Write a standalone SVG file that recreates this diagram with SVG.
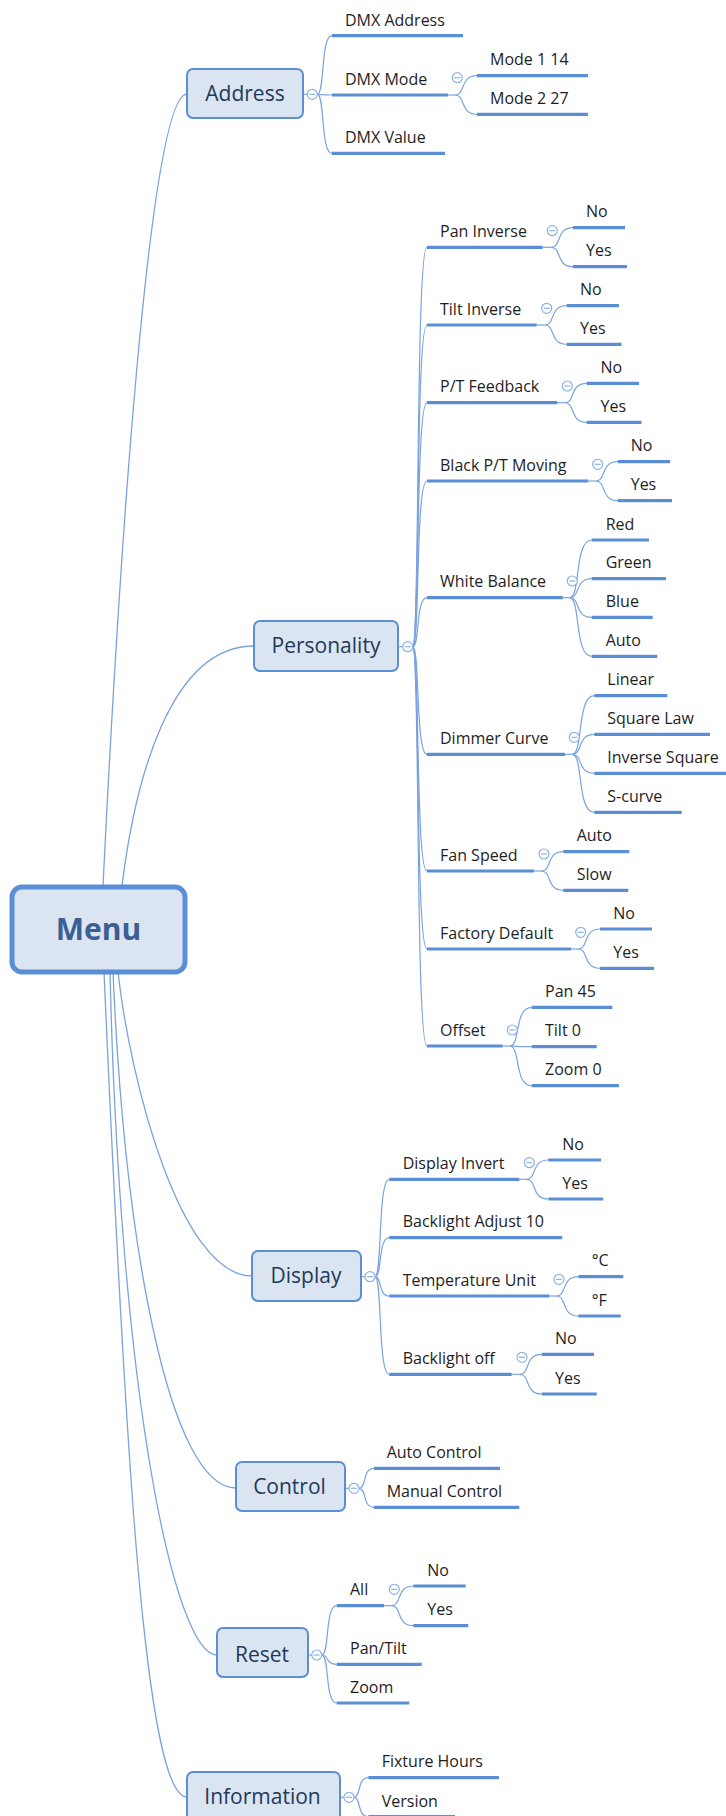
<svg xmlns="http://www.w3.org/2000/svg" width="726" height="1816" viewBox="0 0 726 1816">
<defs>
<style>
.bg{fill:#ffffff}
.box{fill:#dbe5f2;stroke:#5a8fd5;stroke-width:2}
.root{fill:#dbe5f2;stroke:#5a8fd5;stroke-width:5}
.bt{font-family:"Open Sans","Noto Sans",sans-serif;font-size:21px;fill:#22395a;text-anchor:middle}
.rt{font-family:"Open Sans","Noto Sans",sans-serif;font-size:30px;font-weight:bold;fill:#3b5f94;text-anchor:middle}
.t{font-family:"Open Sans","Noto Sans",sans-serif;font-size:16px;fill:#1e1e1e}
.ul{stroke:#5a8fd5;stroke-width:3.2;fill:none;stroke-linecap:butt}
.c{stroke:#7aa3de;stroke-width:1.2;fill:none}
.rc{stroke:#7aa3de;stroke-width:1.3;fill:none}
.col{fill:#ffffff;stroke:#8fb2e2;stroke-width:1.2}
.mn{stroke:#8fb2e2;stroke-width:1.2}
</style>
</defs>
<rect class="bg" x="0" y="0" width="726" height="1816"/>

<g id="connectors">
<!-- root connectors -->
<path class="rc" d="M103,886 C122,500 152,94 187,94"/>
<path class="rc" d="M122,886 C135,780 170,646 254,646"/>
<path class="rc" d="M118,972 C130,1080 180,1276 252,1276"/>
<path class="rc" d="M113,972 C125,1250 170,1488 236,1488"/>
<path class="rc" d="M110,972 C120,1400 175,1655 217,1655"/>
<path class="rc" d="M104,972 C125,1450 145,1797 187,1797"/>

<!-- Address -->
<path class="c" d="M303,94.3 H307.3"/>
<path class="c" d="M317.3,94.3 C325,94.3 320.4,35.7 332,35.7"/>
<path class="c" d="M317.3,94.3 C325,94.3 320.4,95 332,95"/>
<path class="c" d="M317.3,94.3 C325,94.3 320.4,153.3 332,153.3"/>
<path class="c" d="M448,95 H455"/>
<path class="c" d="M455,95 C466,95 459.4,75.7 477,75.7"/>
<path class="c" d="M455,95 C466,95 459.4,114.3 477,114.3"/>

<!-- Personality -->
<path class="c" d="M398,646.7 H402.7"/>
<path class="c" d="M412.7,646.7 C420,646.7 415.4,247.3 427,247.3"/>
<path class="c" d="M412.7,646.7 C420,646.7 415.4,325 427,325"/>
<path class="c" d="M412.7,646.7 C420,646.7 415.4,402.7 427,402.7"/>
<path class="c" d="M412.7,646.7 C420,646.7 415.4,481 427,481"/>
<path class="c" d="M412.7,646.7 C420,646.7 415.4,597.7 427,597.7"/>
<path class="c" d="M412.7,646.7 C420,646.7 415.4,754.3 427,754.3"/>
<path class="c" d="M412.7,646.7 C420,646.7 415.4,871 427,871"/>
<path class="c" d="M412.7,646.7 C420,646.7 415.4,949 427,949"/>
<path class="c" d="M412.7,646.7 C420,646.7 415.4,1046 427,1046"/>
<!-- Pan Inverse -->
<path class="c" d="M542.7,247.3 H551"/>
<path class="c" d="M551,247.3 C562,247.3 555.4,227.7 573,227.7"/>
<path class="c" d="M551,247.3 C562,247.3 555.4,266.7 573,266.7"/>
<!-- Tilt Inverse -->
<path class="c" d="M536.7,325 H544.7"/>
<path class="c" d="M544.7,325 C555.7,325 549.1,305.7 566.7,305.7"/>
<path class="c" d="M544.7,325 C555.7,325 549.1,344.3 566.7,344.3"/>
<!-- P/T Feedback -->
<path class="c" d="M557.3,402.7 H564.7"/>
<path class="c" d="M564.7,402.7 C575.7,402.7 569.1,383.3 586.7,383.3"/>
<path class="c" d="M564.7,402.7 C575.7,402.7 569.1,422.3 586.7,422.3"/>
<!-- Black P/T Moving -->
<path class="c" d="M588.3,481 H595.7"/>
<path class="c" d="M595.7,481 C606.7,481 600.1,461.7 617.7,461.7"/>
<path class="c" d="M595.7,481 C606.7,481 600.1,500.7 617.7,500.7"/>
<!-- White Balance -->
<path class="c" d="M562.7,597.7 H569.7"/>
<path class="c" d="M569.7,597.7 C580.7,597.7 574.1,540 591.7,540"/>
<path class="c" d="M569.7,597.7 C580.7,597.7 574.1,578.7 591.7,578.7"/>
<path class="c" d="M569.7,597.7 C580.7,597.7 574.1,617.3 591.7,617.3"/>
<path class="c" d="M569.7,597.7 C580.7,597.7 574.1,656.3 591.7,656.3"/>
<!-- Dimmer Curve -->
<path class="c" d="M565,754.3 H572.3"/>
<path class="c" d="M572.3,754.3 C583.3,754.3 576.7,695.7 594.3,695.7"/>
<path class="c" d="M572.3,754.3 C583.3,754.3 576.7,734.3 594.3,734.3"/>
<path class="c" d="M572.3,754.3 C583.3,754.3 576.7,773.3 594.3,773.3"/>
<path class="c" d="M572.3,754.3 C583.3,754.3 576.7,812.3 594.3,812.3"/>
<!-- Fan Speed -->
<path class="c" d="M534,871 H541.3"/>
<path class="c" d="M541.3,871 C552.3,871 545.7,851.7 563.3,851.7"/>
<path class="c" d="M541.3,871 C552.3,871 545.7,890.3 563.3,890.3"/>
<!-- Factory Default -->
<path class="c" d="M571,949 H578"/>
<path class="c" d="M578,949 C589,949 582.4,929 600,929"/>
<path class="c" d="M578,949 C589,949 582.4,968.3 600,968.3"/>
<!-- Offset -->
<path class="c" d="M502.7,1046 H509.7"/>
<path class="c" d="M509.7,1046 C520.7,1046 514.1,1007.3 531.7,1007.3"/>
<path class="c" d="M509.7,1046 C520.7,1046 514.1,1046.7 531.7,1046.7"/>
<path class="c" d="M509.7,1046 C520.7,1046 514.1,1085.7 531.7,1085.7"/>

<!-- Display -->
<path class="c" d="M361,1276.7 H365"/>
<path class="c" d="M375,1276.7 C382.3,1276.7 377.7,1179.3 389.3,1179.3"/>
<path class="c" d="M375,1276.7 C382.3,1276.7 377.7,1237.7 389.3,1237.7"/>
<path class="c" d="M375,1276.7 C382.3,1276.7 377.7,1296 389.3,1296"/>
<path class="c" d="M375,1276.7 C382.3,1276.7 377.7,1374.3 389.3,1374.3"/>
<path class="c" d="M519.3,1179.3 H526.3"/>
<path class="c" d="M526.3,1179.3 C537.3,1179.3 530.7,1160 548.3,1160"/>
<path class="c" d="M526.3,1179.3 C537.3,1179.3 530.7,1199 548.3,1199"/>
<path class="c" d="M549.3,1296 H556.3"/>
<path class="c" d="M556.3,1296 C567.3,1296 560.7,1276.7 578.3,1276.7"/>
<path class="c" d="M556.3,1296 C567.3,1296 560.7,1316 578.3,1316"/>
<path class="c" d="M511.7,1374.3 H519.7"/>
<path class="c" d="M519.7,1374.3 C530.7,1374.3 524.1,1354.3 541.7,1354.3"/>
<path class="c" d="M519.7,1374.3 C530.7,1374.3 524.1,1394 541.7,1394"/>

<!-- Control -->
<path class="c" d="M345,1488.3 H349"/>
<path class="c" d="M359,1488.3 C367,1488.3 362,1468.3 374,1468.3"/>
<path class="c" d="M359,1488.3 C367,1488.3 362,1507.3 374,1507.3"/>

<!-- Reset -->
<path class="c" d="M308,1655 H311.7"/>
<path class="c" d="M321.7,1655 C329.7,1655 324.7,1605.7 336.7,1605.7"/>
<path class="c" d="M321.7,1655 C329.7,1655 324.7,1664.3 336.7,1664.3"/>
<path class="c" d="M321.7,1655 C329.7,1655 324.7,1703 336.7,1703"/>
<path class="c" d="M384,1605.7 H391.3"/>
<path class="c" d="M391.3,1605.7 C402.3,1605.7 395.7,1586 413.3,1586"/>
<path class="c" d="M391.3,1605.7 C402.3,1605.7 395.7,1625.7 413.3,1625.7"/>

<!-- Information -->
<path class="c" d="M340,1797.3 H344"/>
<path class="c" d="M354,1797.3 C361.3,1797.3 356.7,1777.7 368.3,1777.7"/>
<path class="c" d="M354,1797.3 C361.3,1797.3 356.7,1816.5 368.3,1816.5"/>
</g>

<g id="menu">
<rect class="root" x="12" y="887" width="173" height="85" rx="10"/>
<text class="rt" x="98.5" y="940">Menu</text>
</g>

<g id="address">
<rect class="box" x="187" y="69" width="116" height="49" rx="6"/>
<text class="bt" x="245" y="101">Address</text>
<circle class="col" cx="312.3" cy="94.3" r="5"/><line class="mn" x1="309.3" y1="94.3" x2="315.3" y2="94.3"/>
</g>
<g id="dmx-address"><line class="ul" x1="332" y1="35.7" x2="463" y2="35.7"/><text class="t" x="345" y="25.5">DMX Address</text></g>
<g id="dmx-mode"><line class="ul" x1="332" y1="95" x2="448" y2="95"/><text class="t" x="345" y="84.5">DMX Mode</text>
<circle class="col" cx="457.3" cy="77.7" r="5"/><line class="mn" x1="454.3" y1="77.7" x2="460.3" y2="77.7"/></g>
<g id="mode1"><line class="ul" x1="477" y1="75.7" x2="588" y2="75.7"/><text class="t" x="490" y="65">Mode 1 14</text></g>
<g id="mode2"><line class="ul" x1="477" y1="114.3" x2="588" y2="114.3"/><text class="t" x="490" y="103.7">Mode 2 27</text></g>
<g id="dmx-value"><line class="ul" x1="332" y1="153.3" x2="445" y2="153.3"/><text class="t" x="345" y="142.7">DMX Value</text></g>

<g id="personality">
<rect class="box" x="254" y="621" width="144" height="50" rx="6"/>
<text class="bt" x="326" y="653">Personality</text>
<circle class="col" cx="407.7" cy="646.7" r="5"/><line class="mn" x1="404.7" y1="646.7" x2="410.7" y2="646.7"/>
</g>
<g id="pan-inverse"><line class="ul" x1="427" y1="247.3" x2="542.7" y2="247.3"/><text class="t" x="440" y="236.7">Pan Inverse</text>
<circle class="col" cx="552.3" cy="230.7" r="5"/><line class="mn" x1="549.3" y1="230.7" x2="555.3" y2="230.7"/></g>
<g id="pan-no"><line class="ul" x1="573" y1="227.7" x2="625" y2="227.7"/><text class="t" x="586" y="217.2">No</text></g>
<g id="pan-yes"><line class="ul" x1="573" y1="266.7" x2="627" y2="266.7"/><text class="t" x="586" y="256.2">Yes</text></g>

<g id="tilt-inverse"><line class="ul" x1="427" y1="325" x2="536.7" y2="325"/><text class="t" x="440" y="314.5">Tilt Inverse</text>
<circle class="col" cx="546.7" cy="308.3" r="5"/><line class="mn" x1="543.7" y1="308.3" x2="549.7" y2="308.3"/></g>
<g id="tilt-no"><line class="ul" x1="566.7" y1="305.7" x2="619" y2="305.7"/><text class="t" x="580" y="295.2">No</text></g>
<g id="tilt-yes"><line class="ul" x1="566.7" y1="344.3" x2="621.5" y2="344.3"/><text class="t" x="580" y="333.8">Yes</text></g>

<g id="pt-feedback"><line class="ul" x1="427" y1="402.7" x2="557.3" y2="402.7"/><text class="t" x="440" y="392.2">P/T Feedback</text>
<circle class="col" cx="567.3" cy="386" r="5"/><line class="mn" x1="564.3" y1="386" x2="570.3" y2="386"/></g>
<g id="ptf-no"><line class="ul" x1="586.7" y1="383.3" x2="639" y2="383.3"/><text class="t" x="600.5" y="372.8">No</text></g>
<g id="ptf-yes"><line class="ul" x1="586.7" y1="422.3" x2="641.5" y2="422.3"/><text class="t" x="600.5" y="411.8">Yes</text></g>

<g id="black-pt"><line class="ul" x1="427" y1="481" x2="588.3" y2="481"/><text class="t" x="440" y="470.5">Black P/T Moving</text>
<circle class="col" cx="597.7" cy="464.3" r="5"/><line class="mn" x1="594.7" y1="464.3" x2="600.7" y2="464.3"/></g>
<g id="bpt-no"><line class="ul" x1="617.7" y1="461.7" x2="670" y2="461.7"/><text class="t" x="630.7" y="451.2">No</text></g>
<g id="bpt-yes"><line class="ul" x1="617.7" y1="500.7" x2="672" y2="500.7"/><text class="t" x="630.7" y="490.2">Yes</text></g>

<g id="white-balance"><line class="ul" x1="427" y1="597.7" x2="562.7" y2="597.7"/><text class="t" x="440" y="587.2">White Balance</text>
<circle class="col" cx="572.3" cy="581" r="5"/><line class="mn" x1="569.3" y1="581" x2="575.3" y2="581"/></g>
<g id="wb-red"><line class="ul" x1="591.7" y1="540" x2="649" y2="540"/><text class="t" x="605.7" y="529.5">Red</text></g>
<g id="wb-green"><line class="ul" x1="591.7" y1="578.7" x2="666" y2="578.7"/><text class="t" x="605.7" y="568.2">Green</text></g>
<g id="wb-blue"><line class="ul" x1="591.7" y1="617.3" x2="652.7" y2="617.3"/><text class="t" x="605.7" y="606.8">Blue</text></g>
<g id="wb-auto"><line class="ul" x1="591.7" y1="656.3" x2="657.3" y2="656.3"/><text class="t" x="605.7" y="645.8">Auto</text></g>

<g id="dimmer-curve"><line class="ul" x1="427" y1="754.3" x2="565" y2="754.3"/><text class="t" x="440" y="743.8">Dimmer Curve</text>
<circle class="col" cx="574.3" cy="737.3" r="5"/><line class="mn" x1="571.3" y1="737.3" x2="577.3" y2="737.3"/></g>
<g id="dc-linear"><line class="ul" x1="594.3" y1="695.7" x2="667.3" y2="695.7"/><text class="t" x="607.3" y="685.2">Linear</text></g>
<g id="dc-square"><line class="ul" x1="594.3" y1="734.3" x2="710" y2="734.3"/><text class="t" x="607.3" y="723.8">Square Law</text></g>
<g id="dc-inverse"><line class="ul" x1="594.3" y1="773.3" x2="726" y2="773.3"/><text class="t" x="607.3" y="762.8">Inverse Square</text></g>
<g id="dc-scurve"><line class="ul" x1="594.3" y1="812.3" x2="681.7" y2="812.3"/><text class="t" x="607.3" y="801.8">S-curve</text></g>

<g id="fan-speed"><line class="ul" x1="427" y1="871" x2="534" y2="871"/><text class="t" x="440" y="860.5">Fan Speed</text>
<circle class="col" cx="544" cy="854" r="5"/><line class="mn" x1="541" y1="854" x2="547" y2="854"/></g>
<g id="fan-auto"><line class="ul" x1="563.3" y1="851.7" x2="629.3" y2="851.7"/><text class="t" x="576.7" y="841.2">Auto</text></g>
<g id="fan-slow"><line class="ul" x1="563.3" y1="890.3" x2="628.3" y2="890.3"/><text class="t" x="576.7" y="879.8">Slow</text></g>

<g id="factory-default"><line class="ul" x1="427" y1="949" x2="571" y2="949"/><text class="t" x="440" y="938.5">Factory Default</text>
<circle class="col" cx="580.7" cy="932.3" r="5"/><line class="mn" x1="577.7" y1="932.3" x2="583.7" y2="932.3"/></g>
<g id="fd-no"><line class="ul" x1="600" y1="929" x2="652" y2="929"/><text class="t" x="613.3" y="918.5">No</text></g>
<g id="fd-yes"><line class="ul" x1="600" y1="968.3" x2="654" y2="968.3"/><text class="t" x="613.3" y="957.8">Yes</text></g>

<g id="offset"><line class="ul" x1="427" y1="1046" x2="502.7" y2="1046"/><text class="t" x="440" y="1035.5">Offset</text>
<circle class="col" cx="512.3" cy="1030" r="5"/><line class="mn" x1="509.3" y1="1030" x2="515.3" y2="1030"/></g>
<g id="off-pan"><line class="ul" x1="531.7" y1="1007.3" x2="612.3" y2="1007.3"/><text class="t" x="545" y="996.8">Pan 45</text></g>
<g id="off-tilt"><line class="ul" x1="531.7" y1="1046.7" x2="596.7" y2="1046.7"/><text class="t" x="545" y="1036.2">Tilt 0</text></g>
<g id="off-zoom"><line class="ul" x1="531.7" y1="1085.7" x2="619" y2="1085.7"/><text class="t" x="545" y="1075.2">Zoom 0</text></g>

<g id="display">
<rect class="box" x="252" y="1251" width="109" height="50" rx="6"/>
<text class="bt" x="306" y="1283">Display</text>
<circle class="col" cx="370" cy="1276.7" r="5"/><line class="mn" x1="367" y1="1276.7" x2="373" y2="1276.7"/>
</g>
<g id="display-invert"><line class="ul" x1="389.3" y1="1179.3" x2="519.3" y2="1179.3"/><text class="t" x="402.7" y="1168.8">Display Invert</text>
<circle class="col" cx="529.3" cy="1162.7" r="5"/><line class="mn" x1="526.3" y1="1162.7" x2="532.3" y2="1162.7"/></g>
<g id="di-no"><line class="ul" x1="548.3" y1="1160" x2="601" y2="1160"/><text class="t" x="562.3" y="1149.5">No</text></g>
<g id="di-yes"><line class="ul" x1="548.3" y1="1199" x2="603.3" y2="1199"/><text class="t" x="562.3" y="1188.5">Yes</text></g>
<g id="backlight-adjust"><line class="ul" x1="389.3" y1="1237.7" x2="562.3" y2="1237.7"/><text class="t" x="402.7" y="1227.2">Backlight Adjust 10</text></g>
<g id="temperature-unit"><line class="ul" x1="389.3" y1="1296" x2="549.3" y2="1296"/><text class="t" x="402.7" y="1285.5">Temperature Unit</text>
<circle class="col" cx="559" cy="1279.3" r="5"/><line class="mn" x1="556" y1="1279.3" x2="562" y2="1279.3"/></g>
<g id="tu-c"><line class="ul" x1="578.3" y1="1276.7" x2="623.3" y2="1276.7"/><text class="t" x="591.7" y="1266.2">°C</text></g>
<g id="tu-f"><line class="ul" x1="578.3" y1="1316" x2="620.7" y2="1316"/><text class="t" x="591.7" y="1305.5">°F</text></g>
<g id="backlight-off"><line class="ul" x1="389.3" y1="1374.3" x2="511.7" y2="1374.3"/><text class="t" x="402.7" y="1363.8">Backlight off</text>
<circle class="col" cx="522" cy="1357.3" r="5"/><line class="mn" x1="519" y1="1357.3" x2="525" y2="1357.3"/></g>
<g id="bo-no"><line class="ul" x1="541.7" y1="1354.3" x2="594" y2="1354.3"/><text class="t" x="555" y="1343.8">No</text></g>
<g id="bo-yes"><line class="ul" x1="541.7" y1="1394" x2="596.7" y2="1394"/><text class="t" x="555" y="1383.5">Yes</text></g>

<g id="control">
<rect class="box" x="236" y="1462" width="109" height="49" rx="6"/>
<text class="bt" x="289.5" y="1494">Control</text>
<circle class="col" cx="354" cy="1488.3" r="5"/><line class="mn" x1="351" y1="1488.3" x2="357" y2="1488.3"/>
</g>
<g id="auto-control"><line class="ul" x1="374" y1="1468.3" x2="500" y2="1468.3"/><text class="t" x="386.7" y="1457.8">Auto Control</text></g>
<g id="manual-control"><line class="ul" x1="374" y1="1507.3" x2="519.3" y2="1507.3"/><text class="t" x="386.7" y="1496.8">Manual Control</text></g>

<g id="reset">
<rect class="box" x="217" y="1628" width="91" height="49" rx="6"/>
<text class="bt" x="262" y="1661.5">Reset</text>
<circle class="col" cx="316.7" cy="1655" r="5"/><line class="mn" x1="313.7" y1="1655" x2="319.7" y2="1655"/>
</g>
<g id="reset-all"><line class="ul" x1="336.7" y1="1605.7" x2="384" y2="1605.7"/><text class="t" x="350" y="1595.2">All</text>
<circle class="col" cx="394.3" cy="1589.3" r="5"/><line class="mn" x1="391.3" y1="1589.3" x2="397.3" y2="1589.3"/></g>
<g id="all-no"><line class="ul" x1="413.3" y1="1586" x2="465.7" y2="1586"/><text class="t" x="427.3" y="1575.5">No</text></g>
<g id="all-yes"><line class="ul" x1="413.3" y1="1625.7" x2="468.3" y2="1625.7"/><text class="t" x="427.3" y="1615.2">Yes</text></g>
<g id="reset-pantilt"><line class="ul" x1="336.7" y1="1664.3" x2="421.7" y2="1664.3"/><text class="t" x="350" y="1653.8">Pan/Tilt</text></g>
<g id="reset-zoom"><line class="ul" x1="336.7" y1="1703" x2="409.3" y2="1703"/><text class="t" x="350" y="1692.5">Zoom</text></g>

<g id="information">
<rect class="box" x="187" y="1772" width="153" height="50" rx="6"/>
<text class="bt" x="262.5" y="1803.5">Information</text>
<circle class="col" cx="349" cy="1797.3" r="5"/><line class="mn" x1="346" y1="1797.3" x2="352" y2="1797.3"/>
</g>
<g id="fixture-hours"><line class="ul" x1="368.3" y1="1777.7" x2="499" y2="1777.7"/><text class="t" x="381.7" y="1767.2">Fixture Hours</text></g>
<g id="version"><line class="ul" x1="368.3" y1="1816.5" x2="455" y2="1816.5"/><text class="t" x="381.7" y="1806.5">Version</text></g>
</svg>
